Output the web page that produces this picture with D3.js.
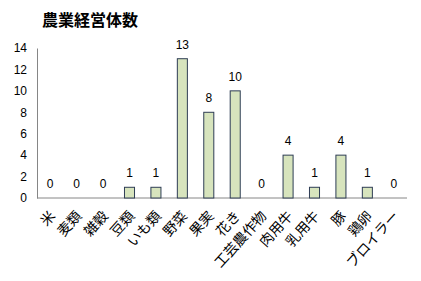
<!DOCTYPE html>
<html>
<head>
<meta charset="utf-8">
<script src="https://cdn.jsdelivr.net/npm/d3@7"></script>
<style>
  body { margin: 0; background: #fff; }
  text { font-family: "Liberation Sans", Arial, sans-serif; }
  .jp { font-family: "Noto Sans CJK JP", sans-serif; }
</style>
</head>
<body>
<svg id="chart" width="421" height="281"></svg>
<script>
/* DATA */
var categories = ["米", "麦類", "雑穀", "豆類", "いも類", "野菜", "果実", "花き", "工芸農作物", "肉用牛", "乳用牛", "豚", "鶏卵", "ブロイラー"];
var values = [0, 0, 0, 1, 1, 13, 8, 10, 0, 4, 1, 4, 1, 0];
var yTicks = [0, 2, 4, 6, 8, 10, 12, 14];
var title = "農業経営体数";

var svg = d3.select('#chart');
var mLeft = 37, mRight = 407, mTop = 48, mBottom = 198;

var x = d3.scaleBand().domain(categories).range([mLeft, mRight]).paddingInner(0.62).paddingOuter(0.31);
var y = d3.scaleLinear().domain([0, 14]).range([mBottom, mTop]);

/* TITLE */
svg.append("text")
  .attr("class", "jp")
  .attr("x", 90).attr("y", 26)
  .attr("text-anchor", "middle")
  .attr("font-size", 16).attr("font-weight", "bold")
  .text(title);

/* Y AXIS */
var yAxis = svg.append("g")
  .attr("transform", "translate(" + mLeft + ",0)")
  .call(d3.axisLeft(y).tickValues(yTicks).tickSize(0).tickPadding(10));
yAxis.select(".domain").attr("stroke", "#868686");
yAxis.selectAll("text").attr("font-size", 12).attr("fill", "#000")
  .style("font-family", "'Liberation Sans', Arial, sans-serif");

/* X AXIS */
var xAxis = svg.append("g")
  .attr("transform", "translate(0," + mBottom + ")")
  .call(d3.axisBottom(x).tickSize(0).tickPadding(0));
xAxis.select(".domain").attr("stroke", "#868686").attr("d", "M" + mLeft + ",0H" + mRight);
xAxis.selectAll("text")
  .attr("class", "jp")
  .attr("font-size", 14).attr("fill", "#000")
  .attr("text-anchor", "end")
  .attr("y", 0)
  .attr("dy", null)
  .attr("transform", "translate(3,16) rotate(-48)")
  .attr("dominant-baseline", "middle")
  .style("font-family", "'Noto Sans CJK JP', sans-serif");

/* BARS */
svg.append("g").selectAll("rect")
  .data(values)
  .join("rect")
  .attr("x", function(d, i){ return x(categories[i]); })
  .attr("y", function(d){ return y(d); })
  .attr("width", x.bandwidth())
  .attr("height", function(d){ return mBottom - y(d); })
  .attr("fill", "#d7e4bd")
  .attr("stroke", "#2e3d54")
  .attr("stroke-width", 1)
  .attr("display", function(d){ return d > 0 ? null : "none"; });

/* VALUE LABELS */
svg.append("g").selectAll("text")
  .data(values)
  .join("text")
  .attr("x", function(d, i){ return x(categories[i]) + x.bandwidth() / 2; })
  .attr("y", function(d){ return y(d) - 10; })
  .attr("text-anchor", "middle")
  .attr("font-size", 12)
  .text(function(d){ return d; });
</script>
</body>
</html>
